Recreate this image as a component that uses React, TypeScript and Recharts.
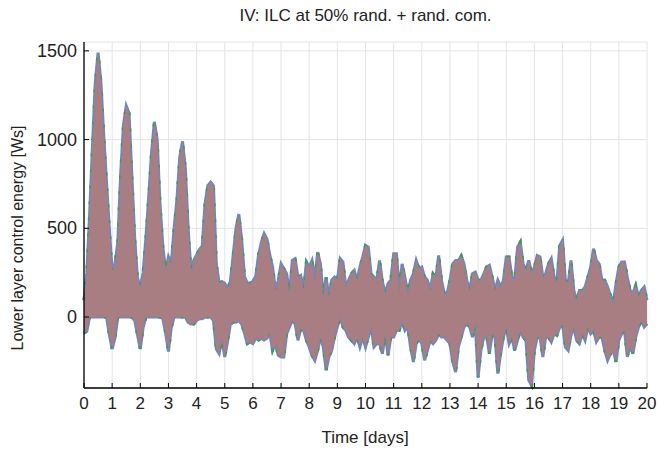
import { ComposedChart, Area, XAxis, YAxis, CartesianGrid } from "recharts";

// samples every 0.1 day, envelope of all runs (max / min per sample)
const DAY_STEP = 0.1;

const upper = [
  95, 250, 580, 960, 1320, 1490, 1330, 1030, 760, 500,
  260, 300, 420, 800, 1080, 1190, 1150, 800, 450, 220,
  170, 250, 450, 680, 930, 1100, 1000, 640, 400, 260,
  340, 300, 500, 660, 900, 990, 840, 500, 260, 320,
  350, 380, 400, 640, 740, 760, 740, 300, 190, 200,
  190, 160, 200, 350, 500, 580, 440, 230, 190, 190,
  200, 230, 350, 420, 470, 440, 350, 282, 150, 207,
  300, 272, 244, 132, 319, 329, 225, 235, 150, 310,
  282, 319, 207, 366, 300, 113, 225, 113, 207, 225,
  207, 329, 310, 169, 207, 244, 263, 207, 282, 338,
  403, 394, 240, 225, 207, 319, 200, 132, 188, 207,
  357, 357, 150, 300, 225, 132, 207, 244, 319, 272,
  282, 225, 207, 150, 244, 225, 347, 207, 132, 132,
  207, 300, 319, 319, 345, 300, 207, 150, 244, 253,
  207, 207, 244, 282, 291, 225, 150, 207, 169, 207,
  338, 338, 225, 207, 394, 422, 300, 263, 319, 244,
  282, 347, 338, 225, 244, 300, 329, 225, 197, 404,
  432, 207, 188, 319, 150, 94, 150, 150, 169, 225,
  282, 385, 319, 300, 207, 207, 169, 122, 75, 188,
  282, 310, 310, 225, 150, 132, 178, 113, 150, 169,
  94,
];

const lower = [
  -90, -80, 0, 0, 0, 0, 0, 0, 0, -100,
  -180, -120, 0, 0, 0, 0, 0, 0, -20, -100,
  -180, -60, 0, 0, 0, 0, 0, 0, -10, -90,
  -195, -60, 0, 0, 0, 0, 0, -30, -40, -40,
  -20, -10, -10, 0, 0, 0, -20, -180, -206, -120,
  -225, -140, -40, -30, -30, -20, -40, -90, -150, -140,
  -150, -120, -130, -120, -130, -120, -90, -188, -150, -216,
  -225, -225, -94, -56, -19, -38, -131, -66, -75, -131,
  -169, -216, -244, -188, -113, -169, -300, -225, -188, -113,
  -56, 0, -56, -75, -113, -131, -150, -113, -169, -113,
  -170, -113, -56, -169, -150, -150, -207, -94, -216, -113,
  -113, -75, -75, -19, -75, -56, -169, -253, -150, -122,
  -150, -244, -188, -131, -150, -131, -94, -113, -113, -131,
  -150, -253, -310, -169, -113, -56, -38, -56, -113, -38,
  -340, -188, -113, -103, -207, -94, -113, -319, -207, -113,
  -56, -150, -113, -188, -131, -75, -113, -131, -357, -385,
  -188, -113, -113, -225, -113, -113, -140, -94, -103, -56,
  -38, -169, -188, -103, -56, -131, -150, -94, -131, -56,
  -94, -75, -140, -113, -113, -188, -244, -207, -188, -253,
  -131, -94, -75, -225, -160, -207, -113, -56, -19, -56,
  -38,
];

const dayTicks = [0, 1, 2, 3, 4, 5, 6, 7, 8, 9, 10, 11, 12, 13, 14, 15, 16, 17, 18, 19, 20];
const energyTicks = [0, 500, 1000, 1500];

const data = upper.map((hi, i) => ({
  day: Math.round(i * DAY_STEP * 10) / 10,
  band: [lower[i], hi],
}));

const FONT = '"Liberation Sans", Arial, Helvetica, sans-serif';
const TEXT = "#222";

function DayTick({ x, y, payload }: any) {
  return (
    <g>
      <line x1={x} x2={x} y1={y} y2={y - 5} stroke="#000" strokeWidth={1} />
      <text x={x} y={y + 21} textAnchor="middle" fontSize={17} fontFamily={FONT} fill={TEXT}>
        {payload.value}
      </text>
    </g>
  );
}

function EnergyTick({ x, y, payload }: any) {
  return (
    <g>
      <line x1={x} x2={x + 5} y1={y} y2={y} stroke="#000" strokeWidth={1} />
      <text x={x - 7} y={y + 6} textAnchor="end" fontSize={18} fontFamily={FONT} fill={TEXT}>
        {payload.value}
      </text>
    </g>
  );
}

export default function App() {
  return (
    <div style={{ position: "absolute", left: 0, top: 0, width: 657, height: 449, background: "#fff" }}>
      <div
        style={{
          position: "absolute",
          left: 84,
          width: 563,
          top: 6,
          textAlign: "center",
          fontFamily: FONT,
          fontSize: 17,
          color: TEXT,
        }}
      >
        IV: ILC at 50% rand. + rand. com.
      </div>
      <ComposedChart
        width={657}
        height={449}
        data={data}
        margin={{ top: 42, right: 10, bottom: 0, left: 0 }}
      >
        <CartesianGrid stroke="#e4e4e4" strokeWidth={1} />
        <XAxis
          dataKey="day"
          type="number"
          domain={[0, 20]}
          ticks={dayTicks}
          interval={0}
          height={61}
          tickSize={0}
          tickMargin={0}
          tick={<DayTick />}
          axisLine={{ stroke: "#000", strokeWidth: 1.3 }}
          label={{
            content: () => (
              <text x={365} y={443} textAnchor="middle" fontSize={17} fontFamily={FONT} fill={TEXT}>
                Time [days]
              </text>
            ),
          }}
        />
        <YAxis
          type="number"
          domain={[-400, 1550]}
          ticks={energyTicks}
          width={84}
          tickSize={0}
          tickMargin={0}
          tick={<EnergyTick />}
          axisLine={{ stroke: "#000", strokeWidth: 1.3 }}
          label={{
            content: () => (
              <text
                x={23}
                y={238}
                transform="rotate(-90, 23, 238)"
                textAnchor="middle"
                fontSize={16}
                fontFamily={FONT}
                fill={TEXT}
              >
                Lower layer control energy [Ws]
              </text>
            ),
          }}
        />
        <Area
          dataKey="band"
          type="linear"
          stroke="#6f86bf"
          strokeWidth={3}
          fill="#6f86bf"
          fillOpacity={1}
          isAnimationActive={false}
        />
        <Area
          dataKey="band"
          type="linear"
          stroke="#3d9a57"
          strokeWidth={3}
          strokeDasharray="3 13"
          fill="none"
          isAnimationActive={false}
        />
        <Area
          dataKey="band"
          type="linear"
          stroke="none"
          fill="#a87e83"
          fillOpacity={1}
          isAnimationActive={false}
        />
      </ComposedChart>
    </div>
  );
}
